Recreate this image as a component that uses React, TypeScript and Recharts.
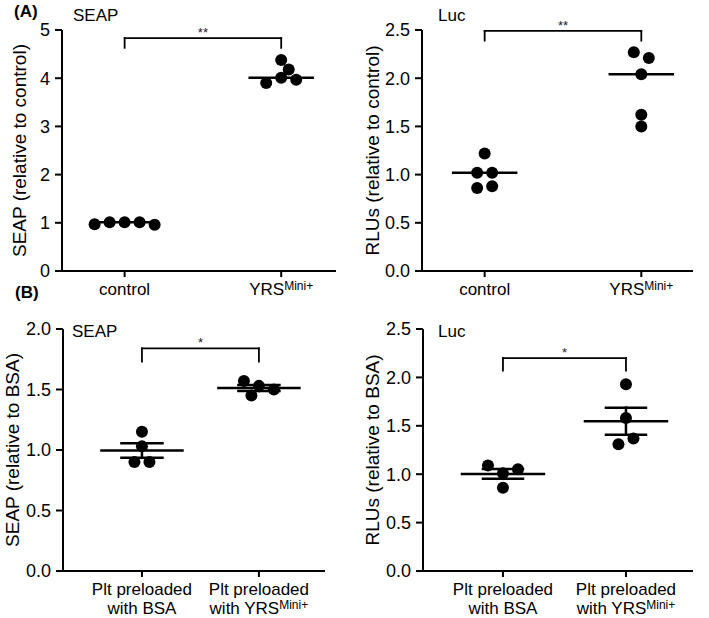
import React from "react";
import { ComposedChart, Scatter, XAxis, YAxis, ReferenceLine, ReferenceDot } from "recharts";

const FONT = '"Liberation Sans", Arial, Helvetica, sans-serif';

// (A) replicates relative to control
const seapCtrl = [1.01, 1.01, 1.01, 0.96, 0.97];
const seapYrs = [4.01, 3.97, 3.9, 4.38, 4.18];
const lucCtrl = [1.02, 1.02, 0.86, 0.88, 1.22];
const lucYrs = [2.27, 2.21, 2.04, 1.62, 1.5];

// (B) replicates relative to BSA
const seapBsa = [1.15, 1.03, 0.9, 0.9];
const seapPlt = [1.53, 1.5, 1.45, 1.57];
const lucBsa = [1.01, 1.05, 1.09, 0.86];
const lucPlt = [1.93, 1.58, 1.31, 1.37];

const labelsA = ["control", "YRS^Mini+"];
const labelsB = ["Plt preloaded\nwith BSA", "Plt preloaded\nwith YRS^Mini+"];

const ticks5 = [0, 1, 2, 3, 4, 5];
const ticks25 = [0, 0.5, 1, 1.5, 2, 2.5];
const ticks20 = [0, 0.5, 1, 1.5, 2];

const mean = (v: number[]) => v.reduce((a, b) => a + b, 0) / v.length;
const median = (v: number[]) => {
  const s = [...v].sort((a, b) => a - b);
  const n = s.length;
  return n % 2 ? s[(n - 1) / 2] : (s[n / 2 - 1] + s[n / 2]) / 2;
};
const sem = (v: number[]) => {
  const m = mean(v);
  const ss = v.reduce((a, x) => a + (x - m) ** 2, 0);
  return Math.sqrt(ss / (v.length - 1)) / Math.sqrt(v.length);
};

// simple prism-like swarm: spread dots that would overlap, then recentre each cluster
function swarm(values: number[], yPx: number, xPx: number) {
  const D = 11;
  const half = 7.5;
  const order = values.map((_, i) => i).sort((a, b) => values[a] - values[b]);
  const clusters: number[][] = [];
  order.forEach((i, k) => {
    if (k > 0 && (values[i] - values[order[k - 1]]) * yPx < D) clusters[clusters.length - 1].push(i);
    else clusters.push([i]);
  });
  const off = values.map(() => 0);
  clusters.forEach((c) => {
    const members = [...c].sort((a, b) => a - b);
    const placed: number[] = [];
    members.forEach((i) => {
      for (let k = 0; k < 40; k++) {
        const step = k === 0 ? 0 : k % 2 === 1 ? (k + 1) / 2 : -k / 2;
        const dx = step * half;
        const ok = placed.every((j) => Math.hypot(dx - off[j], (values[i] - values[j]) * yPx) >= D);
        if (ok) {
          off[i] = dx;
          placed.push(i);
          break;
        }
      }
    });
    const xs = members.map((i) => off[i]);
    const mid = (Math.min(...xs) + Math.max(...xs)) / 2;
    members.forEach((i) => (off[i] -= mid));
  });
  return off.map((o) => o / xPx);
}

function CategoryTick(props: any) {
  const { x, y, payload, labels } = props;
  const lines: string[] = (labels[payload.value] || "").split("\n");
  return (
    <text x={x} y={y} textAnchor="middle" fontSize={17} fill="#000" fontFamily={FONT}>
      {lines.map((line, i) => {
        const [base, sup] = line.split("^");
        return (
          <tspan key={i} x={x} dy={i === 0 ? 16 : 19}>
            {base}
            {sup ? (
              <tspan fontSize={12} dy={-5}>
                {sup}
              </tspan>
            ) : null}
          </tspan>
        );
      })}
    </text>
  );
}

type PanelProps = {
  left: number;
  top: number;
  w: number;
  h: number;
  yAxisW: number;
  mt: number;
  mr: number;
  xAxisH: number;
  xDomain: [number, number];
  yTicks: number[];
  intTicks?: boolean;
  groups: number[][];
  labels: string[];
  yTitle: string;
  yTitleX: number;
  center: "median" | "meanSem";
  lineHalfPx: number;
  capHalfPx?: number;
  bracketY: number;
  bracketDrop: number;
  stars: string;
};

function Panel(p: PanelProps) {
  const yMax = p.yTicks[p.yTicks.length - 1];
  const plotW = p.w - p.yAxisW - p.mr;
  const plotH = p.h - p.mt - p.xAxisH;
  const xPx = plotW / (p.xDomain[1] - p.xDomain[0]);
  const yPx = plotH / yMax;

  const points = p.groups.flatMap((vals, g) => {
    const off = swarm(vals, yPx, xPx);
    return vals.map((v, i) => ({ x: g + off[i], y: v }));
  });

  const seg = (key: string, x1: number, y1: number, x2: number, y2: number, w: number) => (
    <ReferenceLine
      key={key}
      segment={[
        { x: x1, y: y1 },
        { x: x2, y: y2 },
      ]}
      stroke="#000"
      strokeWidth={w}
      strokeLinecap="square"
      ifOverflow="visible"
    />
  );

  const lines: React.ReactNode[] = [];
  const lh = p.lineHalfPx / xPx;
  p.groups.forEach((vals, g) => {
    if (p.center === "median") {
      const m = median(vals);
      lines.push(seg(`m${g}`, g - lh, m, g + lh, m, 2.5));
    } else {
      const m = mean(vals);
      const e = sem(vals);
      const ch = (p.capHalfPx || 20) / xPx;
      lines.push(seg(`m${g}`, g - lh, m, g + lh, m, 2.5));
      lines.push(seg(`v${g}`, g, m - e, g, m + e, 2.5));
      lines.push(seg(`u${g}`, g - ch, m + e, g + ch, m + e, 2.5));
      lines.push(seg(`l${g}`, g - ch, m - e, g + ch, m - e, 2.5));
    }
  });

  const by = p.bracketY;
  const bd = p.bracketDrop;

  return (
    <div style={{ position: "absolute", left: p.left, top: p.top }}>
      <ComposedChart width={p.w} height={p.h} data={points} margin={{ top: p.mt, right: p.mr, bottom: 0, left: 0 }}>
        <XAxis
          type="number"
          dataKey="x"
          domain={p.xDomain}
          ticks={[0, 1]}
          interval={0}
          allowDataOverflow
          height={p.xAxisH}
          tickSize={6}
          tickMargin={2}
          axisLine={{ stroke: "#000", strokeWidth: 2 }}
          tickLine={{ stroke: "#000", strokeWidth: 2 }}
          tick={(tp: any) => <CategoryTick {...tp} labels={p.labels} />}
        />
        <YAxis
          type="number"
          dataKey="y"
          domain={[0, yMax]}
          ticks={p.yTicks}
          interval={0}
          allowDataOverflow
          width={p.yAxisW}
          tickSize={7}
          tickMargin={5}
          axisLine={{ stroke: "#000", strokeWidth: 2 }}
          tickLine={{ stroke: "#000", strokeWidth: 2 }}
          tick={{ fontSize: 18, fill: "#000", fontFamily: FONT }}
          tickFormatter={(v: number) => (p.intTicks ? String(v) : v.toFixed(1))}
          label={{
            value: p.yTitle,
            content: (lp: any) => {
              const vb = lp.viewBox || { x: 0, y: p.mt, height: plotH };
              const cx = vb.x + p.yTitleX;
              const cy = vb.y + vb.height / 2;
              return (
                <text
                  transform={`translate(${cx}, ${cy}) rotate(-90)`}
                  textAnchor="middle"
                  dominantBaseline="central"
                  fontSize={19}
                  fill="#000"
                  fontFamily={FONT}
                >
                  {p.yTitle}
                </text>
              );
            },
          }}
        />
        <Scatter
          data={points}
          isAnimationActive={false}
          shape={(sp: any) => <circle cx={sp.cx} cy={sp.cy} r={6} fill="#000" />}
        />
        {lines}
        {seg("b0", 0, by - bd, 0, by, 1.8)}
        {seg("b1", 0, by, 1, by, 1.8)}
        {seg("b2", 1, by, 1, by - bd, 1.8)}
        <ReferenceDot
          x={0.5}
          y={by}
          r={0}
          fill="none"
          stroke="none"
          ifOverflow="visible"
          label={{ value: p.stars, position: "top", offset: 1, fontSize: 13, fill: "#222", fontFamily: FONT }}
        />
      </ComposedChart>
    </div>
  );
}

const Txt = ({ left, cy, bold, children }: { left: number; cy: number; bold?: boolean; children: React.ReactNode }) => (
  <div
    style={{
      position: "absolute",
      left,
      top: cy - 10,
      lineHeight: "20px",
      fontSize: 17,
      fontFamily: FONT,
      fontWeight: bold ? 700 : 400,
      whiteSpace: "nowrap",
      color: "#000",
    }}
  >
    {children}
  </div>
);

export default function App() {
  return (
    <div style={{ position: "absolute", left: 0, top: 0, width: 709, height: 618, background: "#fff" }}>
      <Panel
        left={0}
        top={0}
        w={345}
        h={300}
        yAxisW={62}
        mt={30}
        mr={9}
        xAxisH={29}
        xDomain={[-0.4, 1.35]}
        yTicks={ticks5}
        intTicks
        groups={[seapCtrl, seapYrs]}
        labels={labelsA}
        yTitle="SEAP (relative to control)"
        yTitleX={19}
        center="median"
        lineHalfPx={31.5}
        bracketY={4.83}
        bracketDrop={0.2}
        stars="**"
      />
      <Panel
        left={350}
        top={0}
        w={359}
        h={300}
        yAxisW={72}
        mt={30}
        mr={16}
        xAxisH={29}
        xDomain={[-0.4, 1.33]}
        yTicks={ticks25}
        groups={[lucCtrl, lucYrs]}
        labels={labelsA}
        yTitle="RLUs (relative to control)"
        yTitleX={22}
        center="median"
        lineHalfPx={31.5}
        bracketY={2.49}
        bracketDrop={0.1}
        stars="**"
      />
      <Panel
        left={0}
        top={300}
        w={345}
        h={318}
        yAxisW={63}
        mt={29}
        mr={20}
        xAxisH={47}
        xDomain={[-0.675, 1.565]}
        yTicks={ticks20}
        groups={[seapBsa, seapPlt]}
        labels={labelsB}
        yTitle="SEAP (relative to BSA)"
        yTitleX={12}
        center="meanSem"
        lineHalfPx={40.5}
        capHalfPx={20.5}
        bracketY={1.84}
        bracketDrop={0.11}
        stars="*"
      />
      <Panel
        left={350}
        top={300}
        w={359}
        h={318}
        yAxisW={73}
        mt={29}
        mr={16}
        xAxisH={47}
        xDomain={[-0.65, 1.545]}
        yTicks={ticks25}
        groups={[lucBsa, lucPlt]}
        labels={labelsB}
        yTitle="RLUs (relative to BSA)"
        yTitleX={22}
        center="meanSem"
        lineHalfPx={41}
        capHalfPx={20}
        bracketY={2.2}
        bracketDrop={0.13}
        stars="*"
      />
      <Txt left={14} cy={12} bold>
        (A)
      </Txt>
      <Txt left={15} cy={293} bold>
        (B)
      </Txt>
      <Txt left={73} cy={16}>
        SEAP
      </Txt>
      <Txt left={438} cy={16}>
        Luc
      </Txt>
      <Txt left={72} cy={332}>
        SEAP
      </Txt>
      <Txt left={438} cy={332}>
        Luc
      </Txt>
    </div>
  );
}
